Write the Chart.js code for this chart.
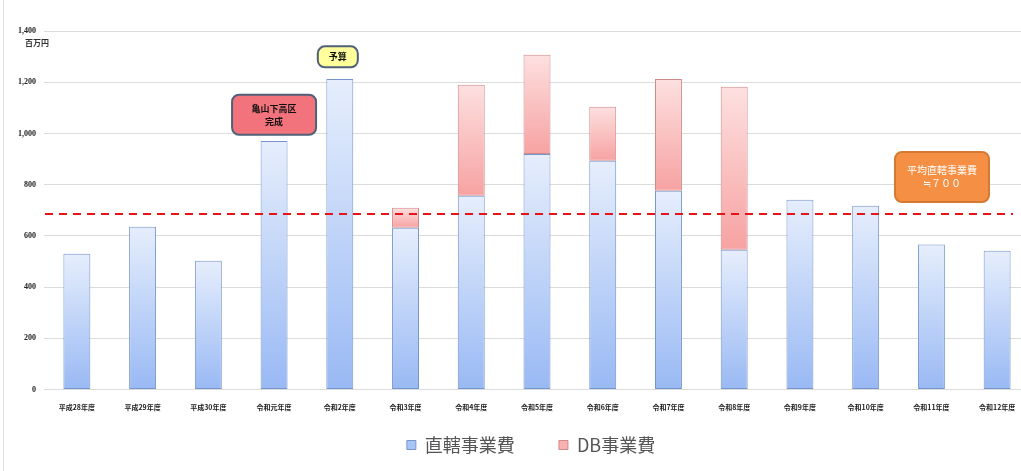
<!DOCTYPE html>
<html>
<head>
<meta charset="utf-8">
<script src="https://cdn.jsdelivr.net/npm/chart.js@4/dist/chart.umd.min.js"></script>
<style>
  html, body { margin: 0; padding: 0; background: #fff; }
  #wrap { position: relative; width: 1021px; height: 471px; overflow: hidden; }
  #wrap:before { content: ''; position: absolute; left: 3px; top: 0; bottom: 0; border-left: 1px solid #e2e2e2; }
  canvas { display: block; }
</style>
</head>
<body>
<div id="wrap"><canvas id="costChart" width="1036" height="471"></canvas></div>
<script>
const years = ['平成28年度', '平成29年度', '平成30年度', '令和元年度', '令和2年度', '令和3年度', '令和4年度',
  '令和5年度', '令和6年度', '令和7年度', '令和8年度', '令和9年度', '令和10年度', '令和11年度', '令和12年度'];
const directCost = [530, 636, 503, 971, 1213, 632, 757, 920, 893, 776, 546, 741, 718, 566, 542];
const dbCost = [0, 0, 0, 0, 0, 78, 433, 387, 211, 437, 636, 0, 0, 0, 0];
const averageCost = 686;
const yTicks = [0, 200, 400, 600, 800, 1000, 1200, 1400];

// bar gradient per bar, light at the top
function barGradient(ctx, flat, top, bottom) {
  const chart = ctx.chart;
  const y = chart.scales.y;
  if (!y || y.bottom === undefined) return flat;
  const i = ctx.dataIndex;
  let lo, hi;
  if (ctx.datasetIndex === 0) { lo = 0; hi = directCost[i]; }
  else { lo = directCost[i]; hi = directCost[i] + dbCost[i]; }
  const y0 = y.getPixelForValue(lo), y1 = y.getPixelForValue(hi);
  if (!isFinite(y0) || !isFinite(y1) || y0 === y1) return flat;
  const g = chart.ctx.createLinearGradient(0, y1, 0, y0);
  g.addColorStop(0, top);
  g.addColorStop(1, bottom);
  return g;
}

const extras = {
  id: 'extras',
  afterLayout(chart) {
    // legend sits a bit right of the canvas centre, under the plot
    chart.legend.left += 16;
    chart.legend.right += 16;
  },
  afterDatasetsDraw(chart) {
    const { ctx, scales: { x, y } } = chart;
    // average line
    const ya = y.getPixelForValue(averageCost);
    ctx.save();
    ctx.strokeStyle = '#e8141c';
    ctx.lineWidth = 2;
    ctx.setLineDash([8, 6]);
    ctx.beginPath();
    ctx.moveTo(x.left + 1, ya);
    ctx.lineTo(1013, ya);
    ctx.stroke();
    ctx.restore();

    // unit label
    ctx.save();
    ctx.font = 'bold 8px "Noto Sans CJK JP"';
    ctx.fillStyle = '#333';
    ctx.textAlign = 'left';
    ctx.textBaseline = 'middle';
    ctx.fillText('百万円', 25, y.getPixelForValue(1400) + 12);
    ctx.restore();

    function box(cx, cy, w, h, fill, stroke, color, lines, font) {
      ctx.save();
      ctx.beginPath();
      ctx.roundRect(cx - w / 2, cy - h / 2, w, h, 7);
      ctx.fillStyle = fill;
      ctx.fill();
      ctx.lineWidth = 2;
      ctx.strokeStyle = stroke;
      ctx.stroke();
      ctx.fillStyle = color;
      ctx.font = font;
      ctx.textAlign = 'center';
      ctx.textBaseline = 'middle';
      const lh = 13;
      lines.forEach((t, k) => ctx.fillText(t, cx, cy + (k - (lines.length - 1) / 2) * lh));
      ctx.restore();
    }
    box(x.getPixelForValue(3), y.getPixelForValue(1073), 84, 40, '#f2737b', '#4f6078', '#111',
      ['亀山下高区', '完成'], 'bold 9px "Noto Sans CJK JP"');
    box(x.getPixelForValue(4) - 2, y.getPixelForValue(1299), 40, 21, '#ffff9c', '#4f6078', '#111',
      ['予算'], 'bold 9px "Noto Sans CJK JP"');
    box(942, y.getPixelForValue(830), 94, 50, '#f58f44', '#d47a35', '#fff',
      ['平均直轄事業費', '≒７００'], '10px "Noto Sans CJK JP"');
  }
};

new Chart(document.getElementById('costChart'), {
  type: 'bar',
  data: {
    labels: years,
    datasets: [{
      label: '直轄事業費',
      data: directCost,
      backgroundColor: ctx => barGradient(ctx, '#a9c5f5', '#e6eefc', '#99b9f4'),
      borderColor: '#7595cc',
      borderWidth: 1,
      borderSkipped: false,
      stack: 's'
    }, {
      label: 'DB事業費',
      data: dbCost,
      backgroundColor: ctx => barGradient(ctx, '#f9b0b0', '#fde0e0', '#f7a2a2'),
      borderColor: '#cf8a8a',
      borderWidth: 1,
      borderSkipped: false,
      stack: 's'
    }]
  },
  options: {
    responsive: false,
    animation: false,
    layout: { padding: { top: 31, right: 6, left: 0, bottom: 7 } },
    datasets: { bar: { categoryPercentage: 1, barPercentage: 0.41 } },
    scales: {
      x: {
        stacked: true,
        grid: { display: false },
        border: { display: false },
        ticks: { color: '#222', font: { family: '"Noto Sans CJK JP"', size: 7, weight: 'bold' }, maxRotation: 0, padding: 6 }
      },
      y: {
        stacked: true,
        min: 0,
        max: 1400,
        afterFit: s => { s.width = 44; },
        afterBuildTicks: s => { s.ticks = yTicks.map(v => ({ value: v })); },
        grid: { color: '#dcdcdc', drawTicks: false },
        border: { display: false },
        ticks: {
          color: '#222',
          padding: 8,
          font: { family: '"Liberation Serif"', size: 8, weight: 'bold' },
          callback: v => v.toLocaleString('en-US')
        }
      }
    },
    plugins: {
      legend: {
        position: 'bottom',
        labels: {
          color: '#555',
          font: { family: '"Noto Sans CJK JP"', size: 18 },
          boxWidth: 9,
          boxHeight: 9,
          padding: 18,
          generateLabels: chart => chart.data.datasets.map((d, i) => ({
            // extra trailing space widens the gap between the two items
            text: i === 0 ? d.label + '\u3000  ' : d.label,
            fillStyle: i === 0 ? '#a9c5f5' : '#f9b0b0',
            strokeStyle: d.borderColor,
            lineWidth: 1,
            datasetIndex: i,
            hidden: false,
            fontColor: '#555'
          }))
        }
      },
      tooltip: { enabled: false }
    }
  },
  plugins: [extras]
});
</script>
</body>
</html>
